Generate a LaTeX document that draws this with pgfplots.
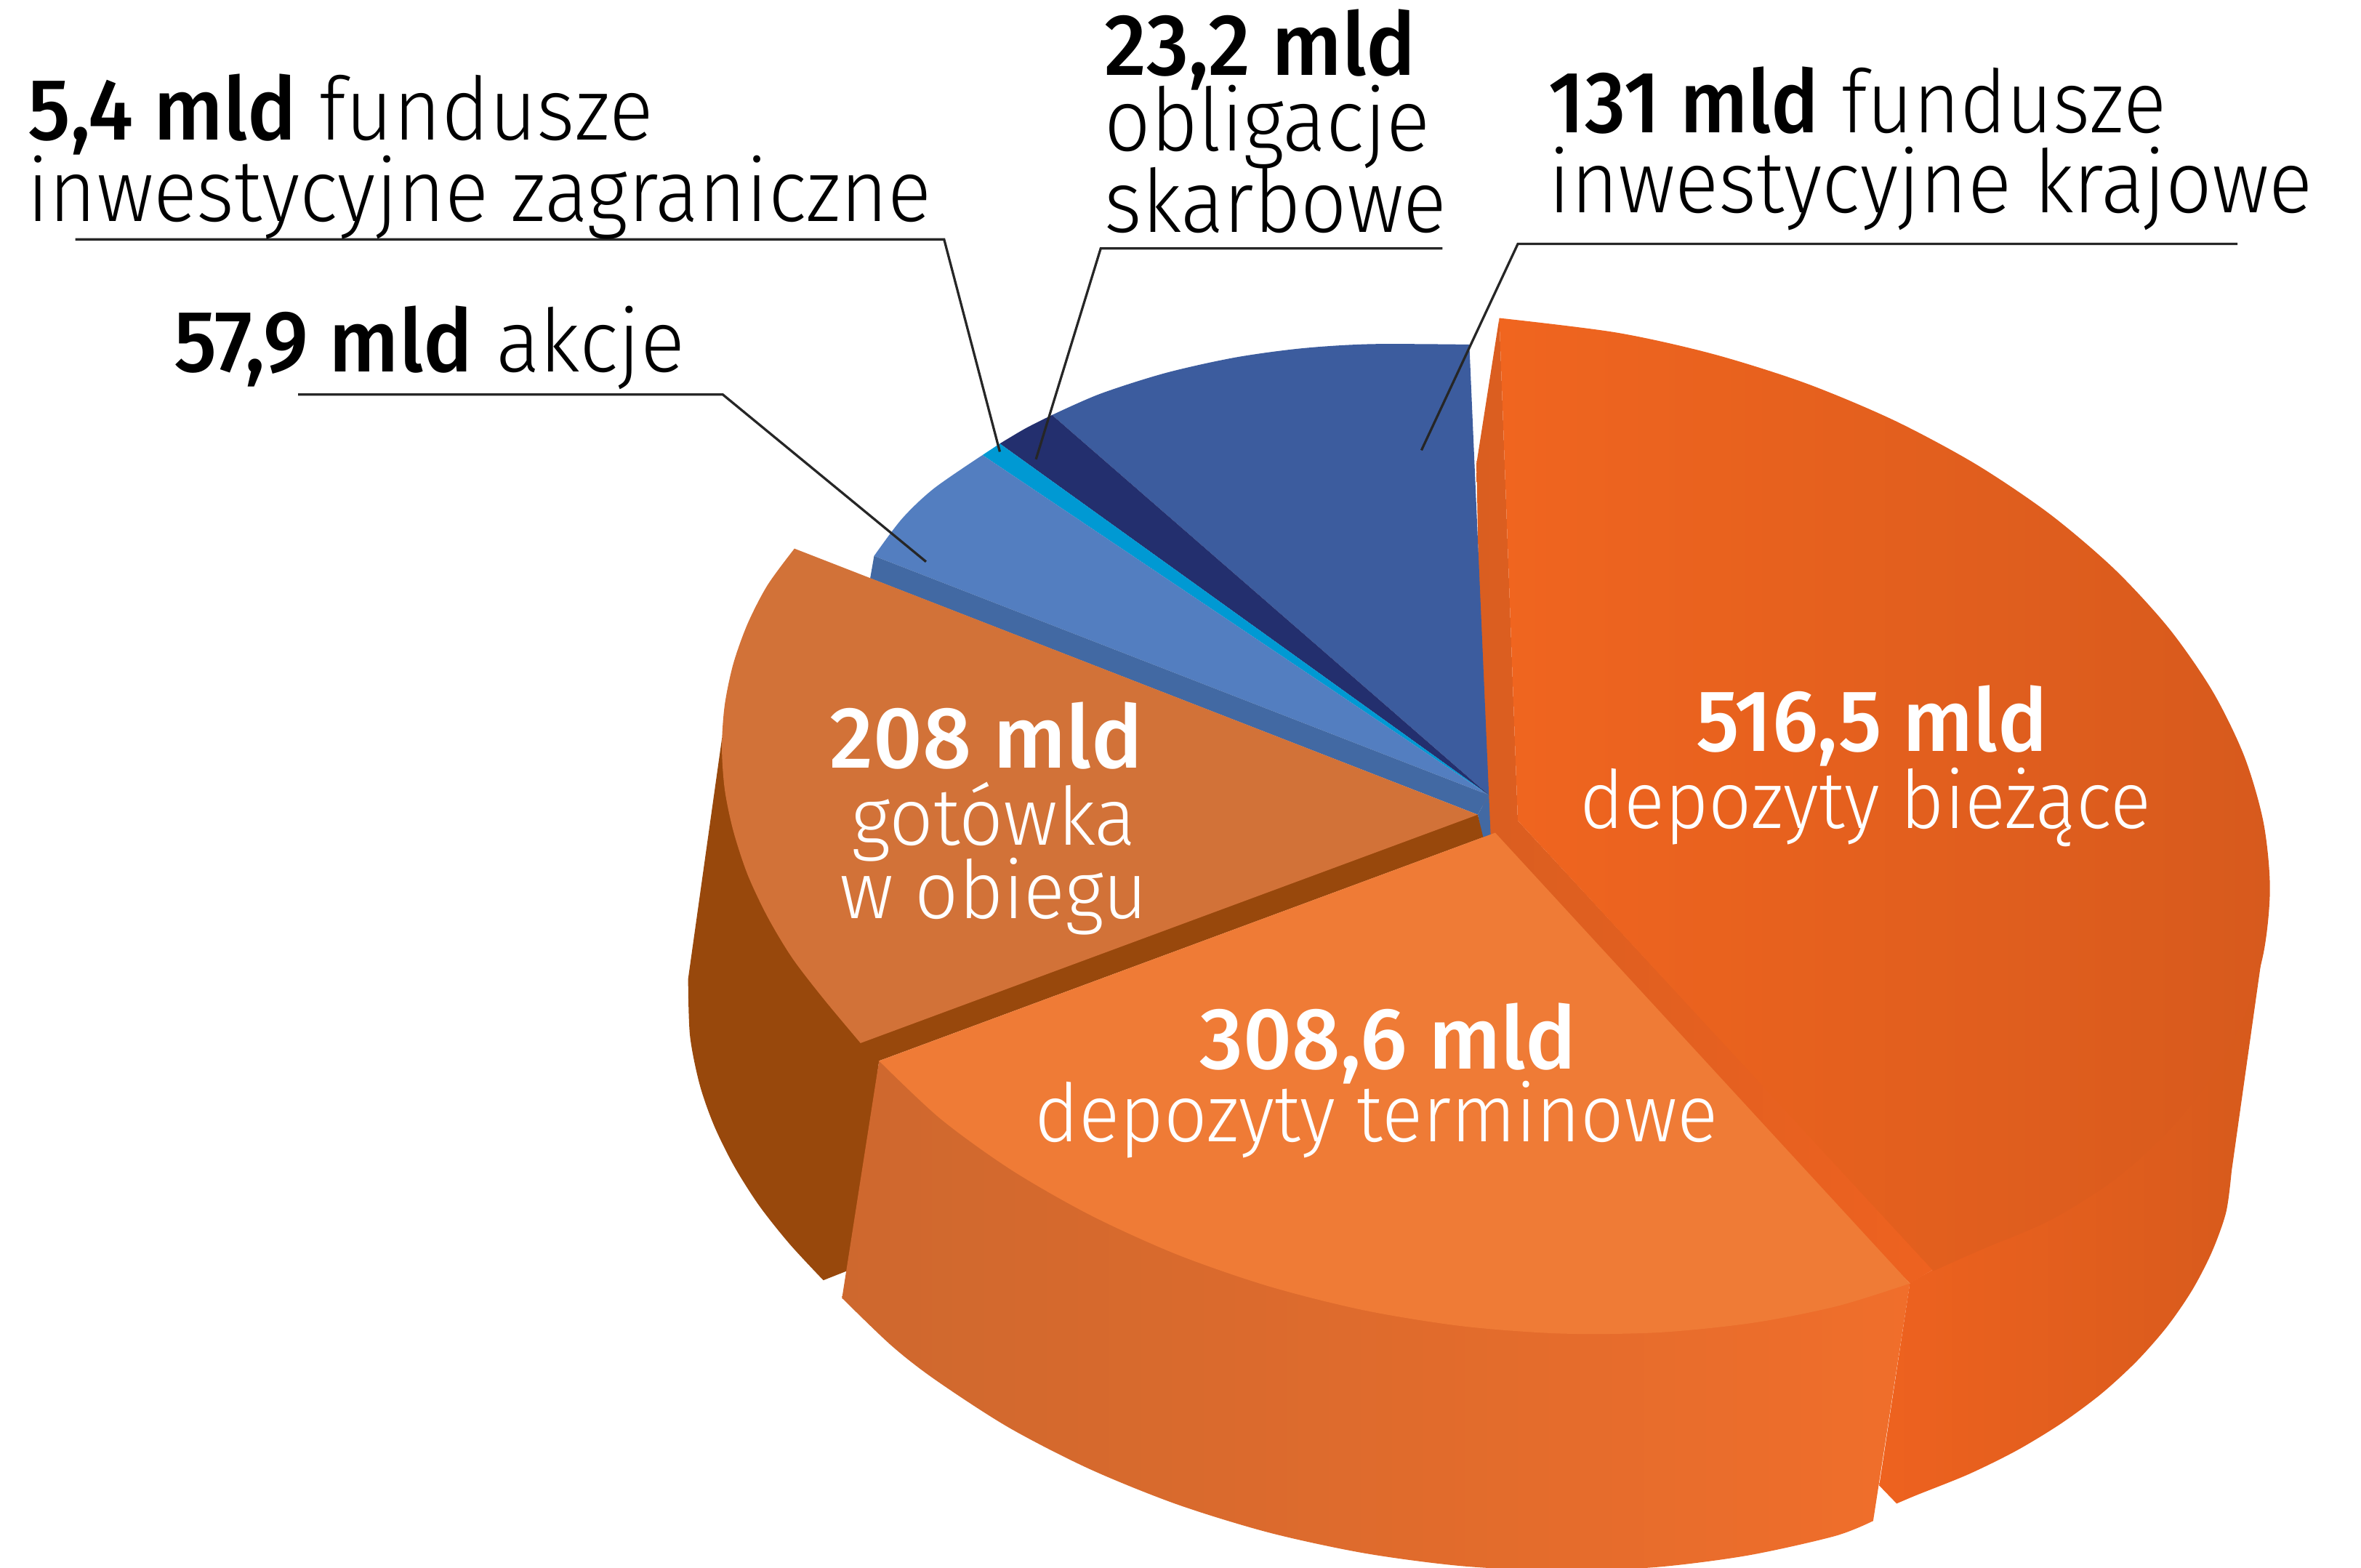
\documentclass[border=0pt]{standalone}
\usepackage{fontspec}
\setmainfont{Fira Sans Light}[BoldFont={Fira Sans Medium}]
\usepackage{pgfplots}
\pgfplotsset{compat=1.18}
\definecolor{blueA}{HTML}{3C5C9E}
\definecolor{navy}{HTML}{232F6E}
\definecolor{cyanA}{HTML}{0099D3}
\definecolor{blueB}{HTML}{537EC0}
\definecolor{blueS}{HTML}{4269A3}
\definecolor{gotT}{HTML}{D27238}
\definecolor{gotS}{HTML}{98480C}
\definecolor{terT}{HTML}{EF7B36}
\newcommand{\bigf}{\fontsize{16.5}{19}\selectfont}
\newcommand{\smf}{\fontsize{15.2}{18}\selectfont}
\newcommand{\sx}[2]{\scalebox{#1}[1]{#2}}
\begin{document}
\begin{tikzpicture}
\useasboundingbox (0,0) rectangle (15.68cm,10.41cm);
\begin{axis}[scale only axis, width=15.68cm, height=10.41cm, xmin=0, xmax=1568, ymin=0, ymax=1041,
  y dir=reverse, hide axis, clip=false]
% right side wall of depozyty biezace
\addplot[draw=none, left color={rgb,255:red,238;green,98;blue,31}, right color={rgb,255:red,214;green,90;blue,28}, smooth]
  coordinates {(1482,778) (1478.4,804.9) (1469,831.3) (1455.9,856.7) (1439.2,881) (1419,904) (1395.6,925.5) (1369,945.2) (1339.6,963.1) (1307.4,979) (1272.8,992.9) (1259.6,998.5)}
  -- (axis cs:1248,986.5) -- (axis cs:1268.4,852) -- (axis cs:1284,843) -- (axis cs:1503.6,625) -- cycle;
% inner walls
\addplot[draw=none, left color={rgb,255:red,218;green,94;blue,32}, right color={rgb,255:red,238;green,98;blue,32}]
  coordinates {(980.6,307.6) (995.7,211.2) (1008,545) (1284,843) (1268.4,852.3) (985,556)} --cycle;
% top of depozyty biezace
\addplot[draw=none, left color={rgb,255:red,240;green,101;blue,31}, right color={rgb,255:red,215;green,90;blue,29}, smooth]
  coordinates {(995.7,211.2) (1073.2,220.8) (1137.3,235) (1199.2,254.5) (1257.8,279.1) (1312.1,308.2) (1361.2,341.3) (1404.3,378) (1440.6,417.5) (1469.5,459.2) (1490.5,502.3) (1503.2,546.1) (1507.5,590) (1503.2,633.1) (1490.5,674.7) (1469.5,714) (1440.6,750.5) (1404.3,783.4) (1361.2,810.5) (1315.5,830) (1284,844)}
  -- (axis cs:1008,545) -- cycle;
% blue slices
\addplot[draw=none, fill=blueS] coordinates {(988.8,528) (981.4,541) (985,558) (990,556)} --cycle;
\addplot[draw=none, fill=blueA, smooth]
  coordinates {(975.8,228.8) (910.7,228.5) (864.8,231.3) (820.2,237.4) (774,247.7) (730.7,261.5) (698.7,275.6)}
  -- (axis cs:988.8,528) -- cycle;
\addplot[draw=none, fill=navy, smooth]
  coordinates {(698.7,275.6) (681,284.5) (664,294.6)} -- (axis cs:988.8,528) -- cycle;
\addplot[draw=none, fill=cyanA]
  coordinates {(664,294.6) (652.5,302.2) (988.8,528)} --cycle;
\addplot[draw=none, fill=blueB, smooth]
  coordinates {(652.5,302.2) (620.2,324.4) (599,344.5) (580.5,369.2)} -- (axis cs:988.8,528) -- cycle;
\addplot[draw=none, fill=blueS] coordinates {(580.5,369.2) (577.9,384) (981.4,541) (988.8,528)} --cycle;
% gotowka
\addplot[draw=none, fill=gotS, smooth]
  coordinates {(457,650) (458.2,687.6) (464.6,720) (474.1,747.2) (487.3,774) (504,800.4) (524.3,826) (546.8,850.2)}
  -- (axis cs:565,843) -- (axis cs:583.8,704.5) -- (axis cs:985,556) -- (axis cs:981.4,541) -- (axis cs:479.5,490) -- cycle;
\addplot[draw=none, fill=gotT, smooth]
  coordinates {(527.6,364.3) (509.7,388.6) (496.5,414.2) (487,440.8) (481.3,468.1) (479.4,496) (481.3,524.3) (487,551.8) (496.5,580.8) (509.7,608.8) (526,636) (546.7,663) (571.5,692.7)}
  -- (axis cs:981.4,541) -- cycle;
% depozyty terminowe
\addplot[draw=none, left color={rgb,255:red,206;green,104;blue,46}, right color={rgb,255:red,240;green,110;blue,43}, smooth]
  coordinates {(559.2,862) (591.8,893.4) (621,916.2) (669.6,947.8) (723.5,975.5) (781.6,999) (842.9,1017.8) (906.4,1031.5) (971,1040) (1035.6,1043) (1099.1,1040.8) (1160.4,1033) (1218.5,1020.1) (1244,1010)}
  -- (axis cs:1268.4,852.3) -- (axis cs:583.8,704.5) -- cycle;
\addplot[draw=none, fill=terT, smooth]
  coordinates {(583.8,704.5) (624.4,742.8) (671.6,776.9) (724.4,807.1) (781.7,833.1) (842.6,854.2) (906.2,870.2) (971.2,880.7) (1036.6,885.6) (1101.2,884.9) (1164,878.5) (1220,867.4) (1268.4,852.3)}
  -- (axis cs:993,553) -- cycle;
% leader lines
\addplot[black!85, line width=0.45pt] coordinates {(50,159) (627,159) (664,300)};
\addplot[black!85, line width=0.45pt] coordinates {(198,262) (480,262) (615,373)};
\addplot[black!85, line width=0.45pt] coordinates {(958,165) (731,165) (688,305)};
\addplot[black!85, line width=0.45pt] coordinates {(1486,162) (1008,162) (944,299)};
% labels
\node[anchor=base west, inner sep=0, font=\bigf] at (axis cs:18,93) {\sx{0.94}{\textbf{5,4 mld} fundusze}};
\node[anchor=base west, inner sep=0, font=\bigf] at (axis cs:17.5,147) {\sx{0.93}{inwestycyjne zagraniczne}};
\node[anchor=base west, inner sep=0, font=\bigf] at (axis cs:115,247) {\sx{0.946}{\textbf{57,9 mld} akcje}};
\node[anchor=base west, inner sep=0, font=\bigf] at (axis cs:733,50) {\sx{0.95}{\textbf{23,2 mld}}};
\node[anchor=base west, inner sep=0, font=\bigf] at (axis cs:733,100) {\sx{0.93}{obligacje}};
\node[anchor=base west, inner sep=0, font=\bigf] at (axis cs:733,154) {\sx{0.925}{skarbowe}};
\node[anchor=base west, inner sep=0, font=\bigf] at (axis cs:1028,88) {\sx{0.916}{\textbf{131 mld} fundusze}};
\node[anchor=base west, inner sep=0, font=\bigf] at (axis cs:1028,141) {\sx{0.932}{inwestycyjne krajowe}};
\node[anchor=base, inner sep=0, font=\bigf, text=white] at (axis cs:1243,499) {\sx{0.954}{\textbf{516,5 mld}}};
\node[anchor=base, inner sep=0, font=\smf, text=white] at (axis cs:1239,550) {\sx{0.94}{depozyty bieżące}};
\node[anchor=base, inner sep=0, font=\bigf, text=white] at (axis cs:655,510) {\sx{0.985}{\textbf{208 mld}}};
\node[anchor=base, inner sep=0, font=\smf, text=white] at (axis cs:660,561) {\sx{0.965}{gotówka}};
\node[anchor=base, inner sep=0, font=\smf, text=white] at (axis cs:660,610) {\sx{0.955}{w obiegu}};
\node[anchor=base, inner sep=0, font=\bigf, text=white] at (axis cs:922,710) {\sx{0.976}{\textbf{308,6 mld}}};
\node[anchor=base, inner sep=0, font=\smf, text=white] at (axis cs:914,758) {\sx{0.945}{depozyty terminowe}};
\end{axis}
\end{tikzpicture}
\end{document}
